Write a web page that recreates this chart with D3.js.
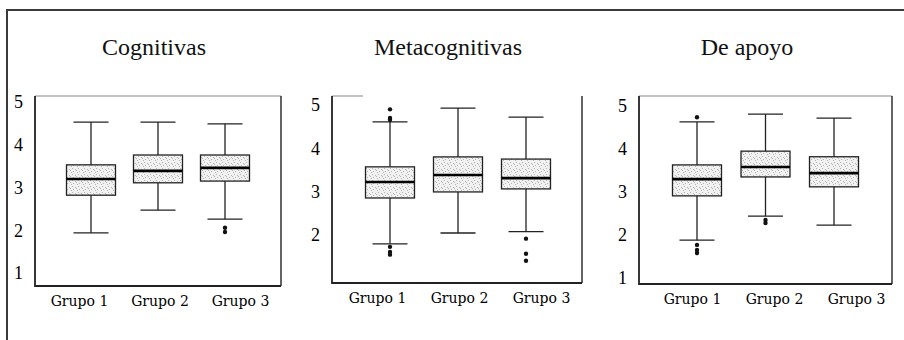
<!DOCTYPE html>
<html>
<head>
<meta charset="utf-8">
<script src="https://cdn.jsdelivr.net/npm/d3@7"></script>
<style>
  body { margin: 0; background: #fff; }
  svg { display: block; }
</style>
</head>
<body>
<script>
// Data
const titles = ['Cognitivas', 'Metacognitivas', 'De apoyo'];
const groups = ['Grupo 1', 'Grupo 2', 'Grupo 3'];
const yTicks = [[1, 2, 3, 4, 5], [2, 3, 4, 5], [1, 2, 3, 4, 5]];

// one row per panel, one value per group
const whiskerLow  = [[1.94, 2.47, 2.26], [1.79, 2.04, 2.07], [1.88, 2.44, 2.23]];
const q1          = [[2.82, 3.11, 3.15], [2.85, 2.99, 3.06], [2.91, 3.35, 3.12]];
const median      = [[3.20, 3.39, 3.46], [3.22, 3.38, 3.31], [3.30, 3.58, 3.44]];
const q3          = [[3.53, 3.76, 3.76], [3.57, 3.80, 3.75], [3.63, 3.95, 3.82]];
const whiskerHigh = [[4.53, 4.53, 4.49], [4.61, 4.93, 4.72], [4.63, 4.81, 4.72]];
const outliers = [
    [[], [], [2.06, 1.96]],
    [[4.90, 4.70, 4.66, 1.72, 1.60, 1.54], [], [1.91, 1.56, 1.40]],
    [[4.74, 1.77, 1.65, 1.58], [2.35, 2.28], []]
];

// Layout of the three panels
const width = 904;
const height = 340;
const panels = [
    { x0: 35,  x1: 281, y0: 96, y1: 286, yRange: [273, 102], boxRange: [91, 225],  labelRange: [79, 240],  top: [35, 281] },
    { x0: 332, x1: 582, y0: 96, y1: 283, yRange: [278, 105], boxRange: [390, 526], labelRange: [377, 541], top: [332, 363] },
    { x0: 639, x1: 892, y0: 96, y1: 284, yRange: [278, 106], boxRange: [697, 834], labelRange: [692, 856], top: [639, 892] }
];
const titleX = [154, 448, 747];
const boxWidth = 49;
const capWidth = 35;

const svg = d3.select('body')
    .append('svg')
    .attr('width', width)
    .attr('height', height);

// stippled fill for the boxes
const pattern = svg.append('defs').append('pattern')
    .attr('id', 'stipple')
    .attr('patternUnits', 'userSpaceOnUse')
    .attr('width', 6)
    .attr('height', 6);
pattern.append('rect').attr('width', 6).attr('height', 6).attr('fill', '#f1f1f1');
[[0, 0], [3, 1], [1, 3], [5, 4], [4, 2]].forEach(p => {
    pattern.append('rect')
        .attr('x', p[0]).attr('y', p[1])
        .attr('width', 1).attr('height', 1)
        .attr('fill', '#b4b4b4');
});

// outer frame (top and left)
svg.append('path')
    .attr('d', `M7,${height} V10 H${width}`)
    .attr('fill', 'none')
    .attr('stroke', '#3a3a3a')
    .attr('stroke-width', 2);

panels.forEach((p, k) => {
    const g = svg.append('g');

    const y = d3.scaleLinear().domain([1, 5]).range(p.yRange);
    const xBox = d3.scalePoint().domain(groups).range(p.boxRange);
    const xLabel = d3.scalePoint().domain(groups).range(p.labelRange);

    // title
    svg.append('text')
        .attr('x', titleX[k])
        .attr('y', 55)
        .attr('text-anchor', 'middle')
        .attr('font-family', 'Liberation Serif')
        .attr('font-size', 24)
        .attr('fill', '#111')
        .text(titles[k]);

    // panel frame
    g.append('line')
        .attr('x1', p.top[0]).attr('x2', p.top[1])
        .attr('y1', p.y0).attr('y2', p.y0)
        .attr('stroke', '#888').attr('stroke-width', 1);
    g.append('path')
        .attr('d', `M${p.x1},${p.y0} V${p.y1}`)
        .attr('stroke', '#222').attr('stroke-width', 1.4);
    g.append('path')
        .attr('d', `M${p.x0},${p.y0} V${p.y1} H${p.x1}`)
        .attr('fill', 'none')
        .attr('stroke', '#222').attr('stroke-width', 1.8);

    // y axis labels
    const yAxis = g.append('g')
        .attr('transform', `translate(${p.x0},0)`)
        .call(d3.axisLeft(y).tickValues(yTicks[k]).tickSize(0).tickPadding(12).tickFormat(d3.format('d')));
    yAxis.select('.domain').remove();
    yAxis.selectAll('text')
        .attr('font-family', 'Liberation Serif')
        .attr('font-size', 18)
        .attr('fill', '#000');

    // x axis labels
    const xAxis = g.append('g')
        .attr('transform', `translate(0,${p.y1})`)
        .call(d3.axisBottom(xLabel).tickSize(0).tickPadding(10));
    xAxis.select('.domain').remove();
    xAxis.selectAll('text')
        .attr('font-family', 'DejaVu Serif')
        .attr('font-size', 14)
        .attr('fill', '#000');

    groups.forEach((grp, i) => {
        const cx = xBox(grp);

        // whiskers
        g.append('line')
            .attr('x1', cx).attr('x2', cx)
            .attr('y1', y(whiskerHigh[k][i])).attr('y2', y(whiskerLow[k][i]))
            .attr('stroke', '#222').attr('stroke-width', 1.3);
        [whiskerHigh[k][i], whiskerLow[k][i]].forEach(v => {
            g.append('line')
                .attr('x1', cx - capWidth / 2).attr('x2', cx + capWidth / 2)
                .attr('y1', y(v)).attr('y2', y(v))
                .attr('stroke', '#222').attr('stroke-width', 1.3);
        });

        // box
        g.append('rect')
            .attr('x', cx - boxWidth / 2)
            .attr('y', y(q3[k][i]))
            .attr('width', boxWidth)
            .attr('height', y(q1[k][i]) - y(q3[k][i]))
            .attr('fill', 'url(#stipple)')
            .attr('stroke', '#222')
            .attr('stroke-width', 1.3);

        // median
        g.append('line')
            .attr('x1', cx - boxWidth / 2).attr('x2', cx + boxWidth / 2)
            .attr('y1', y(median[k][i])).attr('y2', y(median[k][i]))
            .attr('stroke', '#000').attr('stroke-width', 2.6);

        // outliers
        g.selectAll(null)
            .data(outliers[k][i])
            .enter().append('circle')
            .attr('cx', cx)
            .attr('cy', d => y(d))
            .attr('r', 2.2)
            .attr('fill', '#111');
    });
});
</script>
</body>
</html>
